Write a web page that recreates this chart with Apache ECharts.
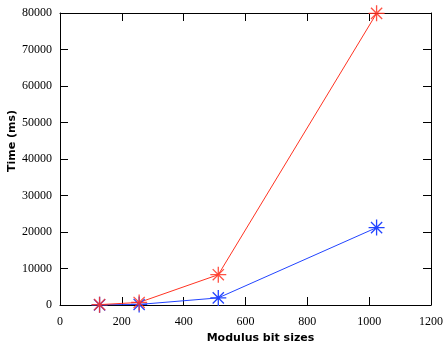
<!DOCTYPE html>
<html>
<head>
<meta charset="utf-8">
<script src="https://cdn.jsdelivr.net/npm/echarts@6/dist/echarts.min.js"></script>
<style>
  html, body {margin: 0; padding: 0; background: #fff;}
  #chart {width: 444px; height: 342px;}
</style>
</head>
<body>
<div id="chart"></div>
<script>
// modulus sizes (bits)
let bitSizes = [128, 256, 512, 1024];
// times in ms
let redTimes = [100, 700, 8300, 79900];
let blueTimes = [50, 150, 1950, 21200];
let xTicks = [0, 200, 400, 600, 800, 1000, 1200];
let yTicks = [0, 10000, 20000, 30000, 40000, 50000, 60000, 70000, 80000];

// asterisk marker (gnuplot point type 3)
let star = 'path://M0 5L10 5M5 0L5 10M1.5 1.5L8.5 8.5M8.5 1.5L1.5 8.5';

function pairs(ys) {
  return bitSizes.map((x, i) => [x, ys[i]]);
}

let serif = 'Liberation Serif';
// ticks point into the plot, like gnuplot
function ticks() {
  return {show: true, inside: true, length: 8, lineStyle: {color: '#000', width: 1}};
}
function frameLine() {
  return {show: true, onZero: false, lineStyle: {color: '#000', width: 1}};
}
let plain = v => String(v);

let option = {
  animation: false,
  grid: {left: 60, right: 13, top: 13, bottom: 37, containLabel: false, outerBoundsMode: 'none'},
  xAxis: [
    {
      type: 'value',
      min: xTicks[0],
      max: xTicks[xTicks.length - 1],
      interval: 200,
      name: 'Modulus bit sizes',
      nameLocation: 'middle',
      nameGap: 28,
      nameMoveOverlap: false,
      nameTextStyle: {fontFamily: 'DejaVu Sans', fontWeight: 'bold', fontSize: 11, color: '#000', padding: [0, 0, 0, 30]},
      axisLine: frameLine(),
      axisTick: ticks(),
      axisLabel: {fontFamily: serif, fontSize: 12, color: '#000', margin: 11, formatter: plain},
      splitLine: {show: false}
    },
    {
      type: 'value',
      position: 'top',
      min: 0, max: 1200, interval: 200,
      axisLine: frameLine(),
      axisTick: ticks(),
      axisLabel: {show: false},
      splitLine: {show: false}
    }
  ],
  yAxis: [
    {
      type: 'value',
      min: yTicks[0],
      max: yTicks[yTicks.length - 1],
      interval: 10000,
      name: 'Time (ms)',
      nameLocation: 'middle',
      nameGap: 42,
      nameMoveOverlap: false,
      nameTextStyle: {fontFamily: 'DejaVu Sans', fontWeight: 'bold', fontSize: 11, color: '#000', padding: [0, 0, 0, 36]},
      axisLine: frameLine(),
      axisTick: ticks(),
      axisLabel: {fontFamily: serif, fontSize: 12, color: '#000', margin: 8, formatter: plain},
      splitLine: {show: false}
    },
    {
      type: 'value',
      position: 'right',
      min: 0, max: 80000, interval: 10000,
      axisLine: frameLine(),
      axisTick: ticks(),
      axisLabel: {show: false},
      splitLine: {show: false}
    }
  ],
  series: [
    {
      name: 'blue',
      type: 'line',
      data: pairs(blueTimes),
      symbol: star,
      symbolSize: 16,
      lineStyle: {color: '#2244ff', width: 1},
      itemStyle: {color: 'rgba(0,0,0,0)', borderColor: '#2244ff', borderWidth: 1.3}
    },
    {
      name: 'red',
      type: 'line',
      data: pairs(redTimes),
      symbol: star,
      symbolSize: 16,
      lineStyle: {color: '#ff3322', width: 1},
      itemStyle: {color: 'rgba(0,0,0,0)', borderColor: '#ff3322', borderWidth: 1.3, opacity: 0.85}
    }
  ]
};

let chart = echarts.init(document.getElementById('chart'));
chart.setOption(option);
</script>
</body>
</html>
